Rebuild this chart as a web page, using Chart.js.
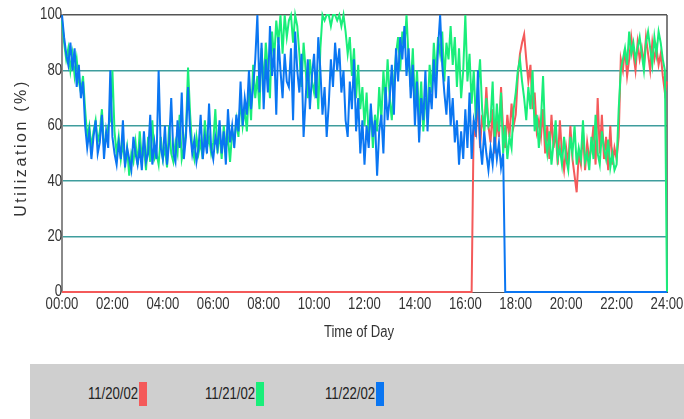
<!DOCTYPE html>
<html>
<head>
<meta charset="utf-8">
<script src="https://cdn.jsdelivr.net/npm/chart.js@4"></script>
<style>
  html, body { margin:0; padding:0; background:#fff; }
  #wrap { position:relative; width:684px; height:419px; overflow:hidden; }
  #c { position:absolute; left:0; top:0; }
  #legend { position:absolute; left:30px; top:364px; width:654px; height:55px; background:#cfcfcf; }
  .item { position:absolute; top:18px; height:24px; font-family:"Liberation Sans",Arial,sans-serif; font-size:16px; color:#222; line-height:24px; white-space:nowrap; }
  .item .txt { display:inline-block; transform:scaleX(0.82); transform-origin:0 50%; }
  .item .box { position:absolute; top:0; width:8px; height:24px; }
</style>
</head>
<body>
<div id="wrap">
  <canvas id="c" width="684" height="419"></canvas>
  <div id="legend"></div>
</div>
<script>
// ---- data (5-minute samples, 00:00 .. 24:00) ----
const seriesNames = ["11/20/02", "11/21/02", "11/22/02"];
const seriesColors = ["#f45a5a", "#19ee7a", "#0a76f2"];
const xTickHours = [0, 2, 4, 6, 8, 10, 12, 14, 16, 18, 20, 22, 24];
const yTicks = [0, 20, 40, 60, 80, 100];

const green = [
  98, 90, 84, 88, 80, 86, 78, 84, 76, 72, 78, 66,
  56, 60, 52, 58, 62, 54, 58, 66, 52, 56, 60, 62,
  80, 58, 50, 56, 48, 54, 46, 52, 42, 50, 47, 54,
  46, 58, 48, 52, 44, 56, 47, 62, 48, 50, 46, 56,
  48, 52, 45, 60, 50, 47, 54, 50, 64, 48, 52, 58,
  81, 64, 52, 48, 56, 50, 54, 48, 62, 52, 56, 50,
  54, 66, 50, 58, 48, 60, 52, 56, 47, 58, 54, 62,
  56, 70, 60, 66, 58, 74, 62, 82, 70, 78, 66, 88,
  74, 90, 80, 70, 94, 84, 98, 90, 100, 86, 100, 92,
  98, 100, 90, 100, 96, 86, 74, 90, 80, 70, 84, 76,
  72, 80, 66, 88, 100, 98, 100, 100, 96, 100, 100, 98,
  100, 96, 100, 94, 86, 92, 78, 88, 70, 82, 66, 74,
  60, 72, 56, 66, 52, 64, 58, 74, 62, 80, 68, 84,
  70, 62, 76, 86, 92, 80, 94, 88, 100, 84, 74, 88,
  68, 80, 62, 76, 58, 70, 64, 82, 72, 90, 78, 92,
  86, 94, 76, 90, 84, 96, 82, 92, 74, 88, 70, 80,
  100, 76, 86, 68, 80, 62, 74, 84, 66, 58, 70, 60,
  62, 76, 54, 68, 58, 72, 50, 60, 48, 56, 52, 66,
  72, 80, 84, 76, 70, 62, 74, 66, 80, 58, 64, 52,
  62, 78, 56, 50, 58, 46, 54, 62, 48, 52, 46, 56,
  48, 44, 56, 50, 60, 46, 52, 48, 62, 47, 50, 44,
  56, 48, 64, 50, 46, 58, 52, 48, 55, 45, 50, 44,
  46, 66, 80, 84, 88, 82, 94, 86, 90, 84, 88, 92,
  86, 80, 90, 94, 88, 82, 92, 86, 94, 90, 84, 80,
  0
];

const blue = [
  100, 92, 86, 82, 90, 80, 88, 74, 82, 70, 76, 60,
  52, 58, 48, 56, 62, 50, 54, 64, 48, 58, 52, 80,
  56, 50, 46, 54, 48, 62, 45, 52, 48, 44, 56, 50,
  46, 52, 44, 58, 47, 50, 64, 46, 54, 48, 80, 52,
  48, 60, 46, 54, 70, 50, 47, 62, 52, 72, 48, 56,
  74, 58, 50, 55, 47, 52, 64, 48, 56, 50, 68, 52,
  48, 56, 52, 62, 50, 58, 46, 66, 54, 60, 52, 64,
  58, 76, 60, 70, 64, 80, 66, 74, 84, 100, 72, 90,
  66, 84, 72, 96, 78, 88, 64, 92, 80, 70, 86, 76,
  74, 88, 62, 94, 80, 72, 86, 56, 70, 84, 66, 78,
  86, 70, 92, 80, 64, 74, 56, 68, 84, 74, 90, 80,
  88, 72, 80, 62, 56, 76, 66, 84, 58, 70, 50, 62,
  46, 60, 52, 68, 56, 62, 42, 58, 64, 50, 74, 62,
  70, 82, 64, 88, 76, 92, 84, 96, 78, 88, 70, 82,
  60, 76, 54, 70, 62, 80, 58, 74, 66, 84, 70, 88,
  100, 82, 72, 64, 78, 60, 70, 54, 62, 46, 58, 48,
  66, 52, 72, 48, 62, 58, 80, 54, 46, 58, 50, 44,
  52, 46, 56, 48, 54, 45, 50, 0, 0, 0, 0, 0,
  0, 0, 0, 0, 0, 0, 0, 0, 0, 0, 0, 0,
  0, 0, 0, 0, 0, 0, 0, 0, 0, 0, 0, 0,
  0, 0, 0, 0, 0, 0, 0, 0, 0, 0, 0, 0,
  0, 0, 0, 0, 0, 0, 0, 0, 0, 0, 0, 0,
  0, 0, 0, 0, 0, 0, 0, 0, 0, 0, 0, 0,
  0, 0, 0, 0, 0, 0, 0, 0, 0, 0, 0, 0,
  0
];

const red = [
  0, 0, 0, 0, 0, 0, 0, 0, 0, 0, 0, 0,
  0, 0, 0, 0, 0, 0, 0, 0, 0, 0, 0, 0,
  0, 0, 0, 0, 0, 0, 0, 0, 0, 0, 0, 0,
  0, 0, 0, 0, 0, 0, 0, 0, 0, 0, 0, 0,
  0, 0, 0, 0, 0, 0, 0, 0, 0, 0, 0, 0,
  0, 0, 0, 0, 0, 0, 0, 0, 0, 0, 0, 0,
  0, 0, 0, 0, 0, 0, 0, 0, 0, 0, 0, 0,
  0, 0, 0, 0, 0, 0, 0, 0, 0, 0, 0, 0,
  0, 0, 0, 0, 0, 0, 0, 0, 0, 0, 0, 0,
  0, 0, 0, 0, 0, 0, 0, 0, 0, 0, 0, 0,
  0, 0, 0, 0, 0, 0, 0, 0, 0, 0, 0, 0,
  0, 0, 0, 0, 0, 0, 0, 0, 0, 0, 0, 0,
  0, 0, 0, 0, 0, 0, 0, 0, 0, 0, 0, 0,
  0, 0, 0, 0, 0, 0, 0, 0, 0, 0, 0, 0,
  0, 0, 0, 0, 0, 0, 0, 0, 0, 0, 0, 0,
  0, 0, 0, 0, 0, 0, 0, 0, 0, 0, 0, 0,
  0, 0, 0, 0, 62, 56, 70, 52, 64, 58, 74, 60,
  54, 66, 50, 62, 56, 74, 58, 52, 64, 56, 68, 60,
  64, 78, 86, 90, 93, 84, 76, 82, 66, 72, 58, 62,
  56, 66, 50, 60, 48, 64, 52, 58, 46, 62, 50, 44,
  52, 46, 60, 48, 42, 36, 50, 46, 58, 44, 54, 48,
  52, 60, 46, 70, 50, 64, 48, 56, 44, 60, 46, 52,
  48, 56, 84, 80, 88, 78, 84, 92, 86, 80, 90, 84,
  88, 82, 92, 86, 80, 90, 84, 88, 82, 86, 78, 72,
  76
];

// sampling grid: one sample every 5 minutes, in hours
const sampleHours = green.map((_, i) => i / 12);

const CHART_LEFT = 62, CHART_RIGHT = 667, CHART_TOP = 15, CHART_BOTTOM = 292;
const FONT = '"Liberation Sans", Arial, sans-serif';
const SQUEEZE = 0.82;

function toPoints(vals) { return vals.map((v, i) => ({ x: sampleHours[i], y: v })); }

function squeezedText(ctx, text, x, y, align) {
  ctx.save();
  ctx.translate(x, y);
  ctx.scale(SQUEEZE, 1);
  ctx.textAlign = align;
  ctx.textBaseline = 'middle';
  ctx.fillText(text, 0, 0);
  ctx.restore();
}

const framePlugin = {
  id: 'frame',
  beforeDatasetsDraw(chart) {
    const { ctx, chartArea } = chart;
    ctx.save();
    ctx.strokeStyle = '#555';
    ctx.lineWidth = 1.5;
    ctx.beginPath();
    ctx.moveTo(chartArea.right, chartArea.top);
    ctx.lineTo(chartArea.right, chartArea.bottom);
    ctx.stroke();
    ctx.restore();
  },
  afterDraw(chart) {
    const { ctx } = chart;
    const xs = chart.scales.x, ys = chart.scales.y;
    ctx.save();
    ctx.fillStyle = '#333';
    ctx.font = '16px ' + FONT;
    xs.ticks.forEach(t => {
      squeezedText(ctx, String(t.value).padStart(2, '0') + ':00', xs.getPixelForValue(t.value), 305, 'center');
    });
    ys.ticks.forEach(t => {
      squeezedText(ctx, String(t.value), 62, ys.getPixelForValue(t.value), 'right');
    });
    squeezedText(ctx, 'Time of Day', 359, 333, 'center');
    ctx.restore();

    ctx.save();
    ctx.fillStyle = '#333';
    ctx.font = '16px ' + FONT;
    try { ctx.letterSpacing = '2.6px'; } catch (e) {}
    ctx.textAlign = 'center';
    ctx.textBaseline = 'middle';
    ctx.translate(22, 148);
    ctx.rotate(-Math.PI / 2);
    ctx.fillText('Utilization (%)', 0, 0);
    ctx.restore();
  }
};

new Chart(document.getElementById('c'), {
  type: 'line',
  data: {
    datasets: [
      { label: seriesNames[2], data: toPoints(blue), borderColor: seriesColors[2], order: 1 },
      { label: seriesNames[1], data: toPoints(green), borderColor: seriesColors[1], order: 2 },
      { label: seriesNames[0], data: toPoints(red), borderColor: seriesColors[0], order: 3 }
    ]
  },
  options: {
    responsive: false,
    animation: false,
    events: [],
    datasets: { line: { borderWidth: 2, pointRadius: 0, tension: 0, fill: false, clip: false } },
    layout: { padding: { left: 0, top: CHART_TOP, right: 684 - CHART_RIGHT, bottom: 0 } },
    plugins: { legend: { display: false }, tooltip: { enabled: false }, title: { display: false } },
    scales: {
      x: {
        type: 'linear', min: 0, max: 24,
        afterBuildTicks(s) { s.ticks = xTickHours.map(v => ({ value: v })); },
        afterFit(s) { s.height = 419 - CHART_BOTTOM; },
        grid: { display: false, drawTicks: false },
        border: { display: true, color: '#555', width: 1 },
        ticks: { display: false }
      },
      y: {
        min: 0, max: 100,
        afterBuildTicks(s) { s.ticks = yTicks.map(v => ({ value: v })); },
        afterFit(s) { s.width = CHART_LEFT; },
        grid: {
          drawTicks: false, lineWidth: 1.5,
          color: c => c.tick.value === 100 ? '#555' : (c.tick.value === 0 ? 'rgba(0,0,0,0)' : '#3f9d9d')
        },
        border: { display: true, color: '#8a8a8a', width: 2 },
        ticks: { display: false }
      }
    }
  },
  plugins: [framePlugin]
});

// legend (text followed by a colour box)
const legendX = [58, 175, 295];
const legend = document.getElementById('legend');
[0, 1, 2].forEach(i => {
  const d = document.createElement('div');
  d.className = 'item';
  d.style.left = legendX[i] + 'px';
  const t = document.createElement('span');
  t.className = 'txt';
  t.textContent = seriesNames[i];
  d.appendChild(t);
  const b = document.createElement('span');
  b.className = 'box';
  b.style.left = '51px';
  b.style.background = seriesColors[i];
  d.appendChild(b);
  legend.appendChild(d);
});
</script>
</body>
</html>
